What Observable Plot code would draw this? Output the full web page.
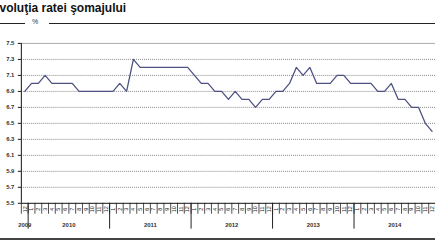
<!DOCTYPE html>
<html>
<head>
<meta charset="utf-8">
<script src="https://cdn.jsdelivr.net/npm/d3@7"></script>
<script src="https://cdn.jsdelivr.net/npm/@observablehq/plot@0.6"></script>
<style>
  html, body { margin: 0; padding: 0; background: #fff; overflow: hidden; width: 435px; height: 245px; }
  #wrap { position: relative; width: 435px; height: 245px; font-family: "Liberation Sans", Arial, sans-serif; }
  #title { position: absolute; left: -8.5px; top: 1px; font-size: 12px; font-weight: bold; color: #111; white-space: nowrap; }
  #rule1 { position: absolute; left: 0; top: 23px; width: 25px; height: 0; border-top: 1px solid #222; }
  #pct { position: absolute; left: 32px; top: 18px; font-size: 7px; color: #333; }
  #rule2 { position: absolute; left: 49px; top: 23px; width: 390px; height: 0; border-top: 1px solid #222; }
  #chart { position: absolute; left: 0; top: 30px; }
  #bottom { position: absolute; left: 0; top: 238px; width: 435px; height: 0; border-top: 2px solid #444; }
</style>
</head>
<body>
<div id="wrap">
  <div id="title">Evoluţia ratei şomajului</div>
  <div id="rule1"></div>
  <div id="pct">%</div>
  <div id="rule2"></div>
  <div id="chart"></div>
  <div id="bottom"></div>
</div>
<script>
const years = [2009, 2010, 2011, 2012, 2013, 2014];
const monthLabels = ["1","2","3","4","5","6","7","8","9","10","11","12"];
const rate2009 = [6.9]; // December only
const rate2010 = [7.0, 7.0, 7.1, 7.0, 7.0, 7.0, 7.0, 6.9, 6.9, 6.9, 6.9, 6.9];
const rate2011 = [6.9, 7.0, 6.9, 7.3, 7.2, 7.2, 7.2, 7.2, 7.2, 7.2, 7.2, 7.2];
const rate2012 = [7.1, 7.0, 7.0, 6.9, 6.9, 6.8, 6.9, 6.8, 6.8, 6.7, 6.8, 6.8];
const rate2013 = [6.9, 6.9, 7.0, 7.2, 7.1, 7.2, 7.0, 7.0, 7.0, 7.1, 7.1, 7.0];
const rate2014 = [7.0, 7.0, 7.0, 6.9, 6.9, 7.0, 6.8, 6.8, 6.7, 6.7, 6.5, 6.4];
const yTicks = [5.5, 5.7, 5.9, 6.1, 6.3, 6.5, 6.7, 6.9, 7.1, 7.3, 7.5];

const series = [rate2009, rate2010, rate2011, rate2012, rate2013, rate2014];
const rows = [];
let idx = 0;
series.forEach((vals, k) => {
  const startMonth = k === 0 ? 12 : 1;
  vals.forEach((v, j) => {
    rows.push({i: idx++, year: years[k], month: monthLabels[startMonth - 1 + j], value: v});
  });
});
const n = rows.length;
const bounds = d3.range(n + 1).map(k => k - 0.5);
const yearInfo = years.map(y => {
  const r = rows.filter(d => d.year === y);
  return {year: y, center: (r[0].i + r[r.length - 1].i) / 2, start: r[0].i - 0.5};
});
const yearBounds = yearInfo.slice(1).map(d => d.start);
const yMin = yTicks[0], yMax = yTicks[yTicks.length - 1];
const grid = yTicks.filter(t => t !== yMin && t !== yMax);

const chart = Plot.plot({
  width: 438,
  height: 207,
  marginLeft: 21,
  marginRight: 0,
  marginTop: 13,
  marginBottom: 33,
  style: {fontFamily: "Liberation Sans, Arial, sans-serif", color: "#333", background: "transparent"},
  x: {type: "linear", domain: [-0.5, n - 0.5], axis: null},
  y: {domain: [yMin, yMax], axis: null},
  marks: [
    Plot.ruleY(grid, {stroke: "#888", strokeWidth: 1, strokeDasharray: "1,1"}),
    Plot.ruleY([yMax], {stroke: "#aaa", strokeWidth: 1}),
    Plot.ruleY([yMin], {stroke: "#111", strokeWidth: 1}),
    Plot.ruleX([-0.5], {stroke: "#111", strokeWidth: 1}),
    Plot.ruleY(yTicks, {y: d => d, x1: -0.5, x2: -0.5, insetLeft: -3, stroke: "#111"}),
    Plot.text(yTicks, {x: -0.5, y: d => d, text: d => d.toFixed(1), textAnchor: "end", dx: -7, fontSize: 6, fontWeight: "bold", fill: "#333"}),
    Plot.ruleX(bounds, {x: d => d, y1: yMin, y2: yMin, insetBottom: -11, stroke: "#222", strokeWidth: 0.8}),
    Plot.ruleX(yearBounds, {x: d => d, y1: yMin, y2: yMin, insetBottom: -26, stroke: "#222", strokeWidth: 1}),
    Plot.text(rows, {x: "i", y: yMin, text: "month", rotate: -90, dy: 6, fontSize: 5.5, fill: "#222"}),
    Plot.text(yearInfo, {x: "center", y: yMin, text: d => String(d.year), dy: 22, fontSize: 6, fontWeight: "bold", fill: "#333"}),
    Plot.line(rows, {x: "i", y: "value", stroke: "#4e5283", strokeWidth: 1.3})
  ]
});
document.getElementById("chart").appendChild(chart);
</script>
</body>
</html>
